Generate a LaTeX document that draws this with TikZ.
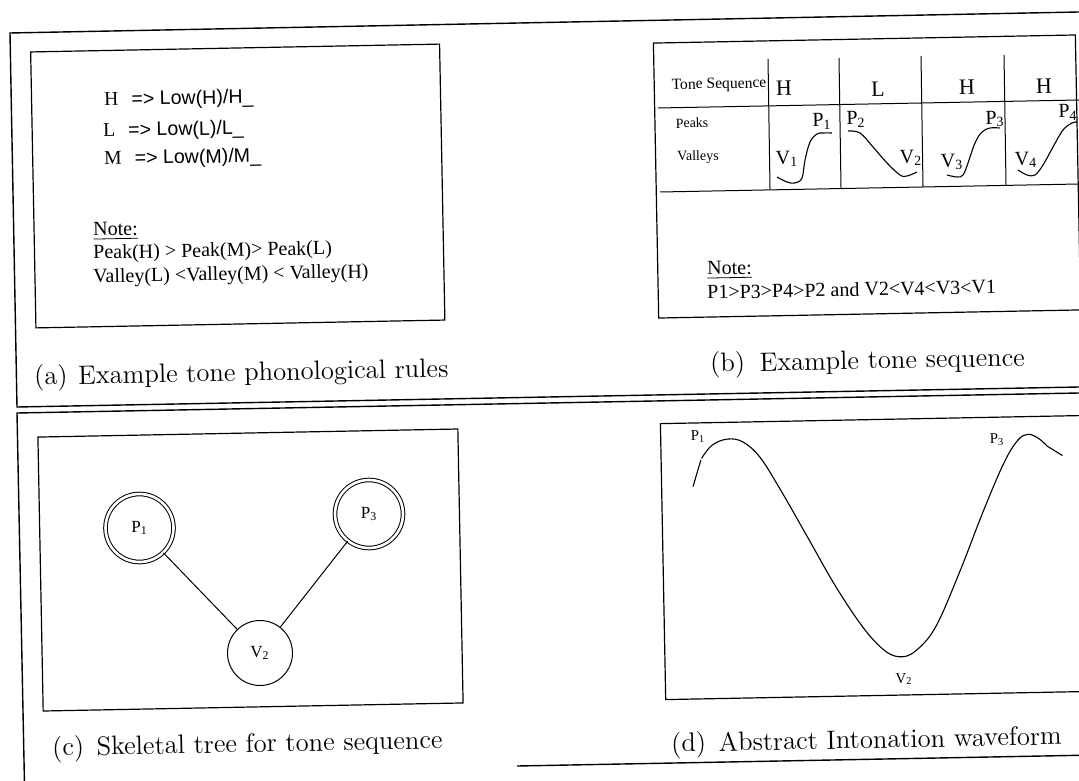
\documentclass[tikz,border=0pt]{standalone}
\usepackage{fontspec}
\newfontfamily\tnr{Liberation Serif}
\newfontfamily\ari{Liberation Sans}
\begin{document}
\begin{tikzpicture}[x=0.5pt,y=-0.5pt,
  pageframe/.style={line width=0.7pt},
  panelbox/.style={draw,line width=0.6pt,rotate=1.1,inner sep=0pt},
  txt/.style={rotate=1.1,inner sep=0pt},
  lefttxt/.style={txt,anchor=base west},
  captxt/.style={lefttxt,font=\fontsize{13.3}{15}\selectfont},
  ruletxt/.style={lefttxt,font=\fontsize{9.8}{11}\selectfont},
  notetxt/.style={lefttxt,font=\tnr\fontsize{10}{11}\selectfont},
  tabhead/.style={txt,font=\tnr\fontsize{7.8}{9}\selectfont},
  tabrow/.style={txt,font=\tnr\fontsize{7}{8}\selectfont},
  tonetxt/.style={txt,font=\tnr\fontsize{11}{12}\selectfont},
  pvtxt/.style={txt,font=\tnr\fontsize{10}{11}\selectfont},
  pvsmall/.style={txt,font=\tnr\fontsize{7.5}{9}\selectfont},
  treenode/.style={circle,draw,line width=0.5pt,inner sep=0pt,font=\tnr\fontsize{8.5}{10}\selectfont},
  peaknode/.style={treenode,double,double distance=1.3pt,minimum size=34pt},
  valleynode/.style={treenode,minimum size=32.5pt},
  wave/.style={line width=0.55pt}
]
\useasboundingbox (0,0) rectangle (1079,780);
\clip (0,0) rectangle (1079,780);

% ---------- page frames ----------
\coordinate (ft1) at (1079,12);
\coordinate (ft2) at (10,33);
\coordinate (ft3) at (17,407);
\coordinate (ft4) at (1079,387);
\draw[pageframe] (ft1) -- (ft2) -- (ft3) -- (ft4);
\coordinate (fb1) at (1079,393);
\coordinate (fb2) at (17,413);
\coordinate (fb3) at (24.6,790);
\draw[pageframe] (fb1) -- (fb2) -- (fb3);
\coordinate (bl1) at (517,766);
\coordinate (bl2) at (1079,755.3);
\draw[pageframe] (bl1) -- (bl2);

% ---------- (a) ----------
\node[panelbox,minimum width=204.5pt,minimum height=138pt] (boxa) at (237.75,186) {};
\node[ruletxt] (ra1) at (104,106) {{\tnr H}\ \ {\ari => Low(H)/H\_}};
\node[ruletxt] (ra2) at (103,137) {{\tnr L}\ \ {\ari => Low(L)/L\_}};
\node[ruletxt] (ra3) at (104,165) {{\tnr M}\ \ {\ari => Low(M)/M\_}};
\node[notetxt] (na0) at (93,236) {\underline{Note:}};
\node[notetxt] (na1) at (93,259) {Peak(H) > Peak(M)> Peak(L)};
\node[notetxt] (na2) at (93,283) {Valley(L) <Valley(M) < Valley(H)};
\node[captxt] (capa) at (34,385) {(a)\hspace{1pt} Example tone phonological rules};

% ---------- (b) ----------
\node[panelbox,minimum width=211pt,minimum height=137.5pt] (boxb) at (867,176.5) {};
\coordinate (v1a) at (768,59);  \coordinate (v1b) at (770,189);
\coordinate (v2a) at (839,58);  \coordinate (v2b) at (841,188);
\coordinate (v3a) at (921,56);  \coordinate (v3b) at (923,187);
\coordinate (v4a) at (1004,55); \coordinate (v4b) at (1006,185);
\draw[line width=0.5pt] (v1a) -- (v1b) (v2a) -- (v2b) (v3a) -- (v3b) (v4a) -- (v4b);
\coordinate (h1a) at (658,108); \coordinate (h1b) at (1079,100);
\coordinate (h2a) at (660,192); \coordinate (h2b) at (1079,184);
\draw[line width=0.5pt] (h1a) -- (h1b) (h2a) -- (h2b);
\node[tabhead] (ts) at (719,85) {Tone Sequence};
\node[tonetxt] (t1) at (784,88) {H};
\node[tonetxt] (t2) at (878,89) {L};
\node[tonetxt] (t3) at (967,87) {H};
\node[tonetxt] (t4) at (1044,86) {H};
\node[tabrow] (pk) at (692,123) {Peaks};
\node[tabrow] (vl) at (698,157) {Valleys};
\node[pvtxt] (bp1) at (822,121) {P\textsubscript{1}};
\node[pvtxt] (bv1) at (787,159) {V\textsubscript{1}};
\node[pvtxt] (bp2) at (856,119) {P\textsubscript{2}};
\node[pvtxt] (bv2) at (911,158) {V\textsubscript{2}};
\node[pvtxt] (bp3) at (995,119) {P\textsubscript{3}};
\node[pvtxt] (bv3) at (952,162) {V\textsubscript{3}};
\node[pvtxt] (bp4) at (1068,112) {P\textsubscript{4}};
\node[pvtxt] (bv4) at (1026,160) {V\textsubscript{4}};
\draw[wave] plot[smooth,tension=0.6] coordinates {(777,177) (787,182) (795,183) (802,178) (805,160) (810,142) (817,134) (823,133) (832,133)};
\draw[wave] plot[smooth,tension=0.6] coordinates {(848,131) (860,133) (873,147) (887,163) (900,175) (907,176) (917,172)};
\draw[wave] plot[smooth,tension=0.6] coordinates {(947,175) (957,177) (963,175) (968,163) (975,143) (982,132) (990,128) (1000,128)};
\draw[wave] plot[smooth,tension=0.6] coordinates {(1018,170) (1027,175) (1035,175) (1043,165) (1053,147) (1063,130) (1072,123) (1077,122)};
\node[notetxt] (nb0) at (707,275) {\underline{Note:}};
\node[notetxt] (nb1) at (707,299) {P1>P3>P4>P2 and V2<V4<V3<V1};
\node[captxt] (capb) at (710,372) {(b)\hspace{3pt} Example tone sequence};

% ---------- (c) ----------
\node[panelbox,minimum width=210pt,minimum height=137pt] (boxc) at (250.5,570) {};
\node[peaknode] (P1) at (139.5,528) {P\textsubscript{1}};
\node[peaknode] (P3) at (369,514) {P\textsubscript{3}};
\node[valleynode] (V2) at (260,653) {V\textsubscript{2}};
\draw[line width=0.5pt] (P1) -- (V2);
\draw[line width=0.5pt] (P3) -- (V2);
\node[captxt] (capc) at (52,756) {(c)\hspace{2pt} Skeletal tree for tone sequence};

% ---------- (d) ----------
\node[panelbox,minimum width=214pt,minimum height=138pt] (boxd) at (877,557.5) {};
\draw[wave] (693,486.6) -- (700.9,459.8);
\draw[wave] plot[smooth,tension=0.6] coordinates {(701.6,458.4) (711.9,445.3) (727.3,439.1) (742.8,441.9) (760,457.3) (780.6,490) (808.1,538.1) (835.6,586.3) (863.1,627.5) (883.8,649.9) (899.2,656.7) (914.7,651.6) (935.3,627.5) (959.4,572.5) (983.5,510.6) (1004.1,462.5) (1017.8,440.2) (1028.1,434.3) (1038.5,438.4) (1047,446)};
\draw[wave] (1047,446) -- (1062.5,455.6);
\node[pvsmall] (dp1) at (698,437) {P\textsubscript{1}};
\node[pvsmall] (dp3) at (997,440) {P\textsubscript{3}};
\node[pvsmall] (dv2) at (904,679) {V\textsubscript{2}};
\node[captxt] (capd) at (671,752) {(d)\hspace{2pt} Abstract Intonation waveform};
\end{tikzpicture}
\end{document}
